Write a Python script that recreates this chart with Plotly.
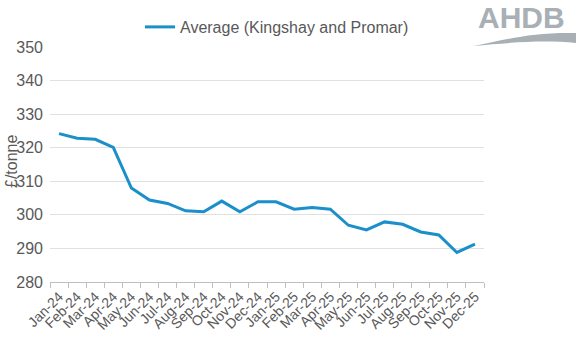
import plotly.graph_objects as go

months = ["Jan-24","Feb-24","Mar-24","Apr-24","May-24","Jun-24","Jul-24","Aug-24",
          "Sep-24","Oct-24","Nov-24","Dec-24","Jan-25","Feb-25","Mar-25","Apr-25",
          "May-25","Jun-25","Jul-25","Aug-25","Sep-25","Oct-25","Nov-25","Dec-25"]
average = [324.2, 322.8, 322.5, 320.1, 308.0, 304.4, 303.4, 301.2,
           300.9, 304.1, 300.9, 303.9, 303.9, 301.7, 302.2, 301.7,
           296.9, 295.5, 297.9, 297.2, 294.9, 294.0, 288.8, 291.3]
series_name = "Average (Kingshay and Promar)"
y_ticks = [280, 290, 300, 310, 320, 330, 340, 350]

FONT = "Liberation Sans, Arial, sans-serif"
TXT = "#595959"
W, H = 578, 339
L, R, T, B = 50, 94, 47, 57

def px(x):
    return (x - L) / (W - L - R)

def py(y):
    return (H - B - y) / (H - T - B)

fig = go.Figure()
fig.add_trace(go.Scatter(x=months, y=average, mode="lines", name=series_name,
                         line=dict(color="#1b8fca", width=3)))

fig.update_layout(
    width=W, height=H,
    margin=dict(l=L, r=R, t=T, b=B, autoexpand=False),
    paper_bgcolor="white", plot_bgcolor="white",
    font=dict(family=FONT, color=TXT, size=14),
    showlegend=True,
    legend=dict(orientation="h", x=px(140), y=py(27), xref="paper", yref="paper",
                xanchor="left", yanchor="middle",
                font=dict(size=16, color=TXT), itemwidth=30,
                bgcolor="rgba(0,0,0,0)"),
    xaxis=dict(type="category", range=[-0.5, 23.5], tickson="boundaries",
               ticks="outside", ticklen=5, tickcolor="#bfbfbf",
               showline=True, linecolor="#bfbfbf", linewidth=1,
               showgrid=False, tickangle=-45, automargin=False,
               tickfont=dict(size=14, color=TXT)),
    yaxis=dict(range=[280, 350], tickvals=y_ticks, showgrid=True,
               gridcolor="#e0e0e0", gridwidth=1, zeroline=False,
               showline=False, ticks="", ticklabelstandoff=6, automargin=False,
               tickfont=dict(size=16, color=TXT)),
)

# y-axis title
fig.add_annotation(text="£/tonne", xref="paper", yref="paper", x=px(11), y=py(162),
                   xanchor="center", yanchor="middle", textangle=-90, showarrow=False,
                   font=dict(family=FONT, size=16, color=TXT))

# logo area (white background covering gridline) and AHDB logo
fig.add_shape(type="rect", xref="paper", yref="paper", x0=px(420), x1=px(580),
              y0=py(52), y1=py(0), fillcolor="white", line=dict(width=0), layer="above")
fig.add_annotation(text="<b>AHDB</b>", xref="paper", yref="paper",
                   x=px(567), y=py(18), xanchor="right", yanchor="middle", showarrow=False,
                   font=dict(family=FONT, size=30, color="#a9b0b5"))
swoosh = (f"M {px(473)} {py(46)} C {px(505)} {py(40)}, {px(530)} {py(32)}, {px(576)} {py(33)} "
          f"L {px(576)} {py(43)} C {px(545)} {py(40)}, {px(515)} {py(42)}, {px(473)} {py(46)} Z")
fig.add_shape(type="path", xref="paper", yref="paper", path=swoosh,
              fillcolor="#a9b0b5", line=dict(width=0), layer="above")

fig.write_html("out.html")
